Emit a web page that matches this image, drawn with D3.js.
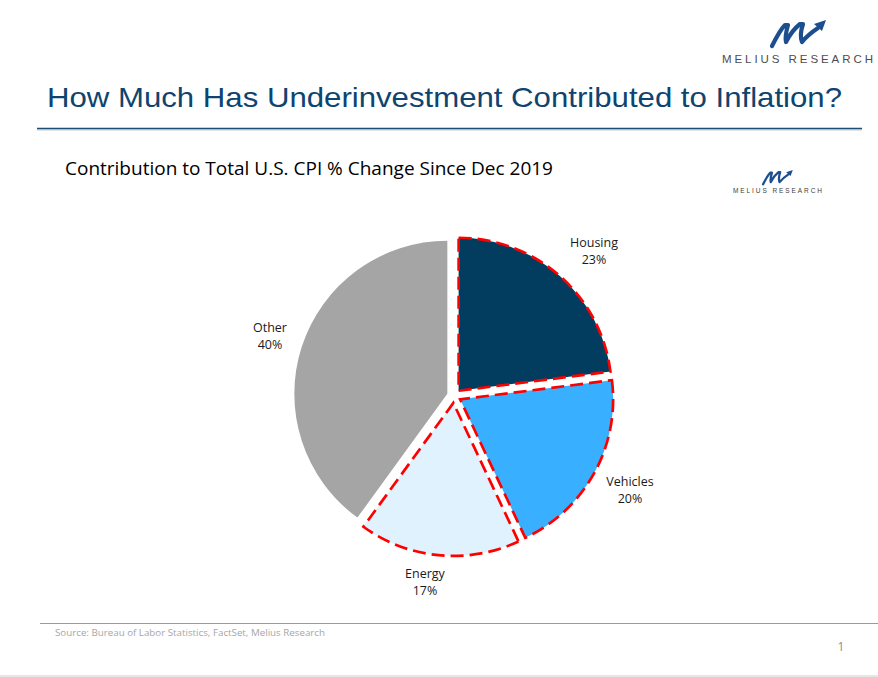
<!DOCTYPE html>
<html><head><meta charset="utf-8">
<script src="https://cdn.jsdelivr.net/npm/d3@7"></script>
<style>body{margin:0;background:#fff}svg{display:block}</style>
</head><body>
<script>
const categories = ["Housing", "Vehicles", "Energy", "Other"];
const values = [23, 20, 17, 40];
const labels = ["23%", "20%", "17%", "40%"];
const colors = ["#023c5e", "#38afff", "#dff2fe", "#a5a5a5"];
const highlighted = [true, true, true, false];
const titleText = "How Much Has Underinvestment Contributed to Inflation?";
const subtitleText = "Contribution to Total U.S. CPI % Change Since Dec 2019";
const sourceText = "Source: Bureau of Labor Statistics, FactSet, Melius Research";

const W = 878, H = 677;
const svg = d3.select("body").append("svg").attr("width", W).attr("height", H);

// page
svg.append("rect").attr("width", W).attr("height", H).attr("fill", "#fff");
svg.append("line").attr("x1", 0).attr("x2", W).attr("y1", 676).attr("y2", 676).attr("stroke", "#e6e6e6").attr("stroke-width", 2);

// logo function
function logo(g, s) {
  const blue = "#1d4e8f";
  g.append("path")
    .attr("d", "M2,26 C6,18 10,10 15,5 L18,5 C16,12 15,18 16,22 C20,14 25,8 30,4 L33,4 C31,10 30,17 32,22 C36,17 42,12 48,8")
    .attr("fill", "none").attr("stroke", blue).attr("stroke-width", 4.2).attr("stroke-linejoin", "round").attr("stroke-linecap", "round");
  g.append("path").attr("d", "M44,4 L56,0 L52,11 Z").attr("fill", blue);
  g.attr("transform", g.attr("transform") + ` scale(${s})`);
}
const lg1 = svg.append("g").attr("transform", "translate(770,20)");
logo(lg1, 1.0);
svg.append("text").attr("x", 722).attr("y", 63).attr("textLength", 151).attr("lengthAdjust", "spacing")
  .attr("font-family", "Liberation Sans, Arial, sans-serif").attr("font-size", 11.5).attr("fill", "#4d4d4d").text("MELIUS RESEARCH");
const lg2 = svg.append("g").attr("transform", "translate(762,170)");
logo(lg2, 0.55);
svg.append("text").attr("x", 733).attr("y", 193).attr("textLength", 89).attr("lengthAdjust", "spacing")
  .attr("font-family", "Liberation Sans, Arial, sans-serif").attr("font-size", 6.5).attr("fill", "#3d3d3d").text("MELIUS RESEARCH");

// title
svg.append("text").attr("x", 47).attr("y", 107).attr("textLength", 795).attr("lengthAdjust", "spacingAndGlyphs")
  .attr("font-family", "Liberation Sans, Arial, sans-serif").attr("font-size", 28.5).attr("fill", "#0e4470").text(titleText);
svg.append("line").attr("x1", 37).attr("x2", 862).attr("y1", 130).attr("y2", 130).attr("stroke", "#e3e3e3").attr("stroke-width", 2);
svg.append("line").attr("x1", 37).attr("x2", 862).attr("y1", 128.5).attr("y2", 128.5).attr("stroke", "#1a4e78").attr("stroke-width", 1.5);

// subtitle
svg.append("text").attr("x", 65).attr("y", 175).attr("textLength", 488).attr("lengthAdjust", "spacingAndGlyphs")
  .attr("font-family", "Open Sans, sans-serif").attr("font-size", 18).attr("fill", "#000").text(subtitleText);

// pie
const cx = 454, cy = 396, R = 153, explode = 7;
const pie = d3.pie().sort(null).value(d => d)(values);
const arc = d3.arc().innerRadius(0).outerRadius(R);
const pg = svg.append("g").attr("transform", `translate(${cx},${cy})`);
pie.forEach((p, i) => {
  const mid = (p.startAngle + p.endAngle) / 2;
  const dx = Math.sin(mid) * explode, dy = -Math.cos(mid) * explode;
  pg.append("path").attr("d", arc(p)).attr("transform", `translate(${dx},${dy})`)
    .attr("fill", colors[i])
    .attr("stroke", highlighted[i] ? "#ff0000" : "none")
    .attr("stroke-width", 2.7).attr("stroke-dasharray", "13,6").attr("stroke-linejoin", "miter");
});

// data labels
const labelPos = [[594, 243], [630, 482], [425, 574], [270, 328]];
categories.forEach((c, i) => {
  const t = svg.append("text").attr("text-anchor", "middle")
    .attr("font-family", "Open Sans, sans-serif").attr("font-size", 12.5).attr("fill", "#1a1a1a");
  t.append("tspan").attr("x", labelPos[i][0]).attr("y", labelPos[i][1] + 4).text(c);
  t.append("tspan").attr("x", labelPos[i][0]).attr("y", labelPos[i][1] + 21).text(labels[i]);
});

// footer
svg.append("line").attr("x1", 40).attr("x2", 878).attr("y1", 623.5).attr("y2", 623.5).attr("stroke", "#7fa0cc").attr("stroke-width", 1.2);
svg.append("text").attr("x", 55).attr("y", 636).attr("textLength", 270).attr("lengthAdjust", "spacingAndGlyphs")
  .attr("font-family", "Open Sans, sans-serif").attr("font-size", 9.5).attr("fill", "#a6a6a6").text(sourceText);
svg.append("text").attr("x", 841).attr("y", 651).attr("text-anchor", "middle")
  .attr("font-family", "Open Sans, sans-serif").attr("font-size", 12).attr("fill", "#8c8c8c").text("1");
</script>
</body></html>
